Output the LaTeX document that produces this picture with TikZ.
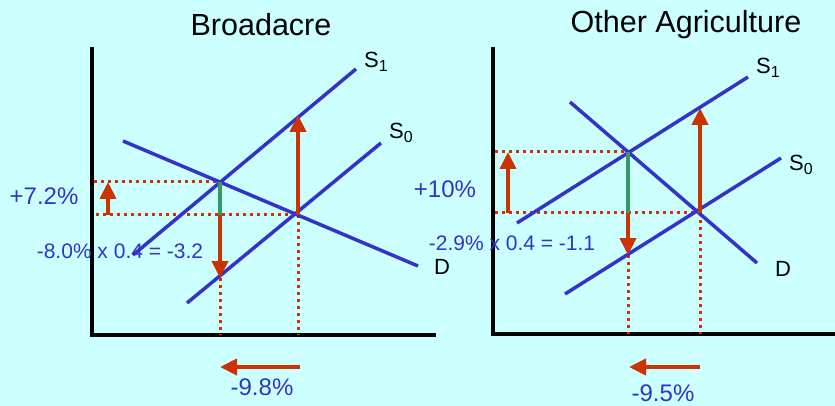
\documentclass[tikz,border=0pt]{standalone}
\usepackage{fontspec}
\setmainfont{Liberation Sans}
\usepackage{xcolor}
\usetikzlibrary{arrows.meta,positioning}
\definecolor{chartbg}{HTML}{CCFFFF}
\definecolor{curveblue}{HTML}{3333CC}
\definecolor{shiftred}{HTML}{CC3300}
\definecolor{gapgreen}{HTML}{339966}
\newcommand{\sublbl}[2]{#1\raisebox{-4pt}{\fontsize{16}{16}\selectfont #2}}

\begin{document}
\begin{tikzpicture}[
  x=1pt,y=-1pt,
  axis/.style={draw=black,line width=4pt},
  curve/.style={draw=curveblue,line width=3.5pt},
  guide/.style={draw=shiftred,line width=3pt,dash pattern=on 3pt off 4pt},
  gap/.style={draw=gapgreen,line width=4pt},
  shiftarrow/.style={-{Triangle[length=17pt,width=16pt]},draw=shiftred,fill=shiftred,line width=4pt},
  ttl/.style={font=\fontsize{30.5}{36}\selectfont,text=black,inner sep=0pt},
  crv/.style={font=\fontsize{22}{26}\selectfont,text=black,inner sep=0pt},
  pct/.style={font=\fontsize{24}{28}\selectfont,text=curveblue,inner sep=0pt},
  calc/.style={font=\fontsize{21}{24}\selectfont,text=curveblue,inner sep=0pt},
]
\fill[chartbg] (0,0) rectangle (835,406);
\useasboundingbox (0,0) rectangle (835,406);

% Broadacre
\coordinate (bO) at (92,335);
\coordinate (bYtop) at (92,47);
\coordinate (bXend) at (436,335);
\coordinate (bSa) at (133,255);
\coordinate (bSb) at (356,69);
\coordinate (bTa) at (187,303);
\coordinate (bTb) at (381,143);
\coordinate (bDa) at (123,141);
\coordinate (bDb) at (418,266);
\coordinate (bE1) at (220,182);
\coordinate (bE0) at (298,215);
\coordinate (bQ1) at (220,278);
\coordinate (bP1) at (298,115);
\coordinate (bL1) at (94,182);
\coordinate (bL0) at (96,215);
\coordinate (bF1) at (220,335);
\coordinate (bF0) at (298,335);
\coordinate (bU0) at (108,215);
\coordinate (bU1) at (108,182);
\coordinate (bA0) at (300,367);
\coordinate (bA1) at (220,367);

\node[ttl] (bttl) at (261,25) {Broadacre};
\draw[axis] (bYtop) -- (bO) -- (bXend);
\draw[guide] (bL1) -- (bE1);
\draw[guide] (bL0) -- (bE0);
\draw[guide] (bQ1) -- (bF1);
\draw[guide] (bE0) -- (bF0);
\draw[curve] (bSa) -- (bSb);
\draw[curve] (bTa) -- (bTb);
\draw[curve] (bDa) -- (bDb);
\draw[gap] (bE1) -- (bE1 |- bE0);
\draw[shiftarrow] (bE1 |- bE0) -- (bQ1);
\draw[shiftarrow] (bE0) -- (bP1);
\draw[shiftarrow] (bU0) -- (bU1);
\draw[shiftarrow] (bA0) -- (bA1);
\node[crv] (bs1) at (376,62) {\sublbl{S}{1}};
\node[crv] (bs0) at (401,133) {\sublbl{S}{0}};
\node[crv] (bd) at (442,267) {D};
\node[pct] (bup) at (44,196) {+7.2\%};
\node[calc] (bcalc) at (120,251) {-8.0\% x 0.4 = -3.2};
\node[pct] (bdown) at (262,387) {-9.8\%};

% Other Agriculture
\coordinate (oO) at (493,334);
\coordinate (oYtop) at (493,47);
\coordinate (oXend) at (835,334);
\coordinate (oSa) at (517,223);
\coordinate (oSb) at (748,77);
\coordinate (oTa) at (565,294);
\coordinate (oTb) at (781,158);
\coordinate (oDa) at (570,102);
\coordinate (oDb) at (757,263);
\coordinate (oE1) at (628,152);
\coordinate (oE0) at (700,213);
\coordinate (oQ1) at (628,255);
\coordinate (oP1) at (700,108);
\coordinate (oL1) at (495,152);
\coordinate (oL0) at (495,213);
\coordinate (oF1) at (628,334);
\coordinate (oF0) at (700,334);
\coordinate (oU0) at (508,213);
\coordinate (oU1) at (508,152);
\coordinate (oA0) at (700,367);
\coordinate (oA1) at (629,367);

\node[ttl] (ottl) at (686,25) {Other Agriculture};
\draw[axis] (oYtop) -- (oO) -- (oXend);
\draw[guide] (oL1) -- (oE1);
\draw[guide] (oL0) -- (oE0);
\draw[guide] (oQ1) -- (oF1);
\draw[guide] (oE0) -- (oF0);
\draw[curve] (oSa) -- (oSb);
\draw[curve] (oTa) -- (oTb);
\draw[curve] (oDa) -- (oDb);
\draw[gap] (oE1) -- (oE1 |- oE0);
\draw[shiftarrow] (oE1 |- oE0) -- (oQ1);
\draw[shiftarrow] (oE0) -- (oP1);
\draw[shiftarrow] (oU0) -- (oU1);
\draw[shiftarrow] (oA0) -- (oA1);
\node[crv] (os1) at (768,68) {\sublbl{S}{1}};
\node[crv] (os0) at (801,165) {\sublbl{S}{0}};
\node[crv] (od) at (783,269) {D};
\node[pct] (oup) at (445,189) {+10\%};
\node[calc] (ocalc) at (512,243) {-2.9\% x 0.4 = -1.1};
\node[pct] (odown) at (663,393) {-9.5\%};
\end{tikzpicture}
\end{document}
